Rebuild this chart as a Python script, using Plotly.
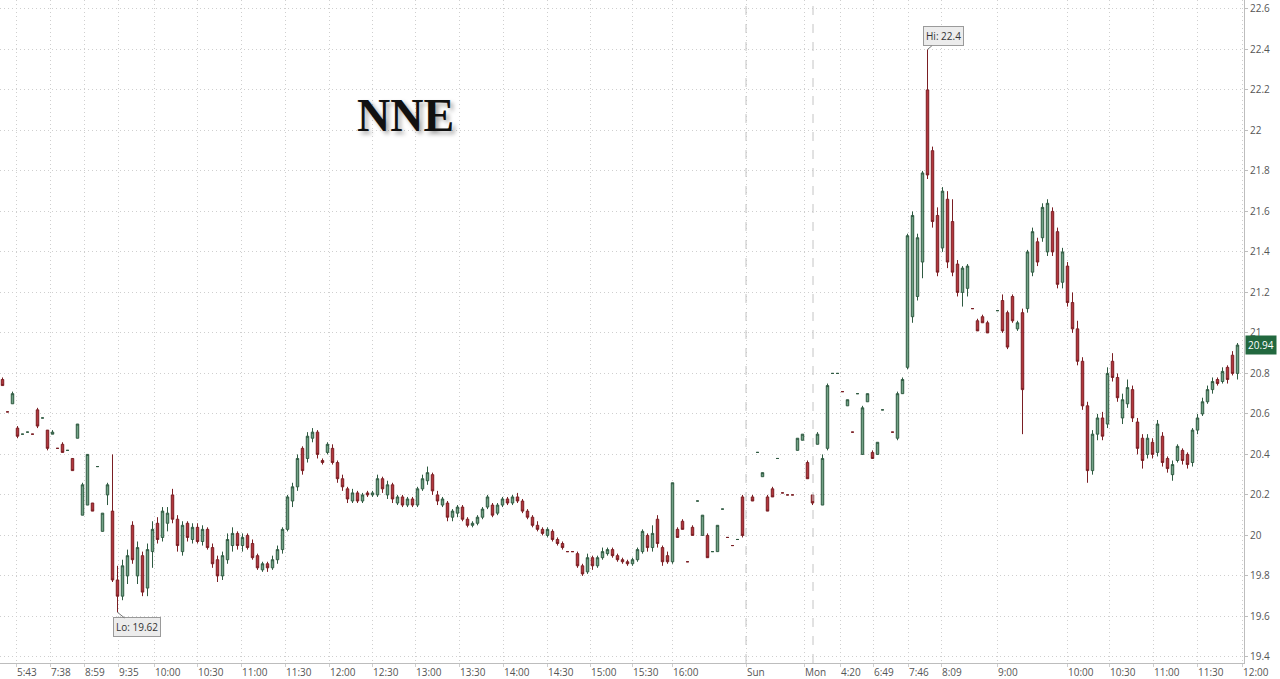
"""NNE 日内 K 线图（周五盘前 → 周一午盘），Plotly 复刻。"""

import plotly.graph_objects as go

# ============================================================
# 数据：每根 K 线一个槽位，None = 该槽位无成交
# ============================================================

open_ = [
    20.77, 20.61, 20.65, 20.53, 20.50, 20.51, 20.50, 20.62, 20.58, 20.52,
    20.50, 20.43, 20.45, 20.42, 20.38, 20.48, 20.10, 20.15, 20.16, 20.34,
    20.02, 20.20, 20.12, 19.78, 19.70, 19.80, 20.05, 19.80, 19.90, 19.74,
    19.92, 20.06, 19.99, 20.06, 20.20, 20.08, 19.92, 20.06, 19.98, 20.04,
    19.97, 20.03, 19.94, 19.88, 19.80, 19.88, 19.95, 20.01, 19.95, 20.00,
    19.96, 19.90, 19.83, 19.86, 19.84, 19.88, 19.93, 20.03, 20.17, 20.24,
    20.43, 20.38, 20.48, 20.51, 20.37, 20.41, 20.43, 20.36, 20.28, 20.23,
    20.17, 20.21, 20.17, 20.21, 20.20, 20.20, 20.28, 20.20, 20.25, 20.16,
    20.19, 20.15, 20.18, 20.15, 20.23, 20.27, 20.30, 20.20, 20.15, 20.16,
    20.09, 20.11, 20.14, 20.08, 20.05, 20.06, 20.09, 20.14, 20.15, 20.11,
    20.15, 20.18, 20.16, 20.19, 20.17, 20.12, 20.09, 20.05, 20.03, 20.00,
    20.02, 19.98, 19.96, 19.92, 19.92, 19.91, 19.85, 19.82, 19.89, 19.85,
    19.89, 19.91, 19.93, 19.90, 19.88, 19.87, 19.86, 19.88, 19.92, 20.00,
    19.94, 20.08, 19.94, 19.90, 19.87, 20.03, 20.07, 19.87, 20.04, 20.17,
    20.00, 20.00, 19.92, 19.92, 20.13, 19.99, 19.95, 19.98, 20.19, None,
    20.19, 20.41, 20.29, 20.19, 20.23, 20.38, 20.21, 20.20, 20.20, 20.42,
    20.47, 20.36, 20.20, 20.45, 20.15, 20.43, 20.80, 20.80, 20.71, 20.64,
    20.51, 20.70, 20.40, 20.66, 20.41, 20.40, 20.62, None, 20.51, 20.48,
    20.70, 20.83, 21.08, 21.18, 21.35, 22.20, 21.90, 21.58, 21.42, 21.66,
    21.55, 21.34, 21.20, 21.22, 21.12, 21.06, 21.08, 21.05, None, 21.11,
    21.16, 21.10, 21.18, 21.02, 21.10, 21.12, 21.30, 21.45, 21.47, 21.40,
    21.60, 21.50, 21.25, 21.33, 21.15, 21.02, 20.86, 20.64, 20.32, 20.50,
    20.58, 20.55, 20.86, 20.78, 20.58, 20.65, 20.72, 20.56, 20.48, 20.40,
    20.46, 20.41, 20.49, 20.38, 20.30, 20.37, 20.42, 20.40, 20.36, 20.52,
    20.60, 20.66, 20.72, 20.77, 20.76, 20.83, 20.89, 20.80,
]

high = [
    20.78, 20.61, 20.71, 20.54, 20.50, 20.51, 20.50, 20.63, 20.58, 20.52,
    20.52, 20.43, 20.46, 20.42, 20.38, 20.55, 20.26, 20.40, 20.16, 20.34,
    20.11, 20.26, 20.40, 19.85, 19.88, 19.93, 20.07, 19.97, 19.92, 19.96,
    20.07, 20.09, 20.14, 20.14, 20.23, 20.10, 20.07, 20.07, 20.06, 20.06,
    20.05, 20.04, 19.96, 19.90, 19.92, 20.01, 20.04, 20.02, 20.01, 20.01,
    19.98, 19.91, 19.87, 19.87, 19.90, 19.95, 20.04, 20.20, 20.26, 20.40,
    20.44, 20.51, 20.53, 20.52, 20.38, 20.46, 20.45, 20.37, 20.30, 20.24,
    20.23, 20.22, 20.21, 20.22, 20.22, 20.30, 20.29, 20.27, 20.26, 20.20,
    20.20, 20.19, 20.19, 20.24, 20.30, 20.34, 20.31, 20.22, 20.19, 20.17,
    20.13, 20.15, 20.15, 20.09, 20.07, 20.10, 20.14, 20.20, 20.16, 20.16,
    20.19, 20.19, 20.20, 20.21, 20.18, 20.13, 20.10, 20.07, 20.04, 20.04,
    20.03, 19.99, 19.97, 19.92, 19.92, 19.92, 19.86, 19.91, 19.90, 19.90,
    19.94, 19.94, 19.94, 19.91, 19.89, 19.88, 19.89, 19.94, 20.03, 20.01,
    20.05, 20.10, 19.95, 19.92, 20.26, 20.04, 20.08, 19.87, 20.05, 20.17,
    20.10, 20.01, 19.92, 20.05, 20.13, 19.99, 19.95, 19.98, 20.20, None,
    20.20, 20.41, 20.31, 20.20, 20.24, 20.38, 20.21, 20.20, 20.20, 20.48,
    20.50, 20.37, 20.20, 20.51, 20.40, 20.75, 20.80, 20.80, 20.71, 20.67,
    20.51, 20.70, 20.64, 20.70, 20.42, 20.46, 20.62, None, 20.51, 20.71,
    20.78, 21.49, 21.60, 21.49, 21.80, 22.40, 21.92, 21.62, 21.72, 21.70,
    21.66, 21.36, 21.33, 21.34, 21.12, 21.07, 21.09, 21.06, None, 21.11,
    21.19, 21.11, 21.19, 21.06, 21.12, 21.41, 21.52, 21.47, 21.64, 21.66,
    21.62, 21.52, 21.42, 21.35, 21.20, 21.06, 20.88, 20.66, 20.52, 20.60,
    20.61, 20.83, 20.90, 20.80, 20.70, 20.77, 20.74, 20.58, 20.50, 20.50,
    20.48, 20.57, 20.51, 20.39, 20.37, 20.45, 20.43, 20.41, 20.53, 20.60,
    20.68, 20.74, 20.78, 20.78, 20.83, 20.84, 20.91, 20.95,
]

low = [
    20.74, 20.61, 20.65, 20.48, 20.50, 20.51, 20.50, 20.53, 20.58, 20.42,
    20.50, 20.43, 20.41, 20.42, 20.32, 20.48, 20.10, 20.15, 20.12, 20.34,
    20.02, 20.15, 19.77, 19.62, 19.68, 19.76, 19.86, 19.76, 19.70, 19.70,
    19.84, 19.96, 19.97, 20.02, 20.06, 19.92, 19.90, 19.97, 19.96, 19.96,
    19.95, 19.93, 19.84, 19.77, 19.78, 19.86, 19.92, 19.93, 19.92, 19.93,
    19.88, 19.83, 19.82, 19.82, 19.83, 19.86, 19.91, 20.02, 20.14, 20.22,
    20.30, 20.36, 20.46, 20.38, 20.35, 20.40, 20.35, 20.26, 20.22, 20.16,
    20.16, 20.16, 20.16, 20.19, 20.19, 20.19, 20.21, 20.18, 20.16, 20.15,
    20.14, 20.14, 20.14, 20.14, 20.22, 20.25, 20.20, 20.15, 20.14, 20.07,
    20.07, 20.09, 20.07, 20.04, 20.04, 20.05, 20.08, 20.13, 20.09, 20.10,
    20.14, 20.15, 20.15, 20.16, 20.11, 20.08, 20.04, 20.02, 20.00, 19.99,
    19.97, 19.95, 19.93, 19.92, 19.92, 19.84, 19.80, 19.81, 19.83, 19.84,
    19.88, 19.90, 19.89, 19.87, 19.86, 19.85, 19.85, 19.87, 19.91, 19.92,
    19.92, 19.94, 19.85, 19.86, 19.86, 19.99, 20.03, 19.87, 20.00, 20.17,
    20.00, 19.89, 19.92, 19.92, 20.13, 19.99, 19.95, 19.98, 19.99, None,
    20.17, 20.41, 20.29, 20.12, 20.19, 20.38, 20.21, 20.20, 20.20, 20.42,
    20.47, 20.28, 20.15, 20.45, 20.15, 20.42, 20.80, 20.80, 20.71, 20.64,
    20.51, 20.70, 20.40, 20.66, 20.38, 20.40, 20.62, None, 20.51, 20.47,
    20.70, 20.82, 21.05, 21.16, 21.27, 21.76, 21.52, 21.28, 21.40, 21.32,
    21.28, 21.18, 21.13, 21.18, 21.12, 21.01, 21.05, 21.00, None, 21.11,
    21.00, 20.92, 21.05, 21.01, 20.50, 21.10, 21.28, 21.33, 21.45, 21.38,
    21.38, 21.22, 21.22, 21.13, 21.00, 20.84, 20.62, 20.26, 20.30, 20.47,
    20.47, 20.53, 20.76, 20.66, 20.55, 20.63, 20.56, 20.40, 20.33, 20.38,
    20.38, 20.39, 20.34, 20.31, 20.27, 20.36, 20.35, 20.33, 20.34, 20.50,
    20.59, 20.65, 20.70, 20.74, 20.75, 20.75, 20.79, 20.77,
]

close = [
    20.74, 20.61, 20.70, 20.49, 20.50, 20.51, 20.50, 20.54, 20.58, 20.43,
    20.51, 20.43, 20.41, 20.42, 20.32, 20.55, 20.25, 20.40, 20.12, 20.34,
    20.11, 20.25, 19.78, 19.70, 19.85, 19.90, 19.88, 19.94, 19.72, 19.93,
    20.03, 19.98, 20.12, 20.11, 20.08, 19.95, 20.05, 19.99, 20.04, 19.97,
    20.03, 19.94, 19.86, 19.80, 19.90, 19.98, 20.01, 19.95, 19.99, 19.94,
    19.89, 19.84, 19.86, 19.84, 19.88, 19.93, 20.03, 20.19, 20.24, 20.38,
    20.32, 20.49, 20.51, 20.40, 20.36, 20.45, 20.36, 20.28, 20.24, 20.18,
    20.21, 20.17, 20.20, 20.20, 20.21, 20.28, 20.23, 20.25, 20.18, 20.19,
    20.15, 20.18, 20.15, 20.23, 20.28, 20.31, 20.22, 20.17, 20.18, 20.09,
    20.12, 20.14, 20.08, 20.05, 20.06, 20.09, 20.13, 20.19, 20.10, 20.15,
    20.18, 20.16, 20.19, 20.17, 20.12, 20.09, 20.05, 20.03, 20.01, 20.03,
    19.98, 19.96, 19.94, 19.92, 19.92, 19.85, 19.81, 19.89, 19.85, 19.89,
    19.92, 19.93, 19.90, 19.88, 19.87, 19.86, 19.88, 19.93, 20.02, 19.94,
    20.01, 19.96, 19.87, 19.87, 20.26, 19.99, 20.03, 19.87, 20.00, 20.17,
    20.10, 19.89, 19.92, 20.05, 20.13, 19.99, 19.95, 19.98, 20.00, None,
    20.17, 20.41, 20.31, 20.12, 20.19, 20.38, 20.21, 20.20, 20.20, 20.48,
    20.50, 20.28, 20.16, 20.50, 20.38, 20.74, 20.80, 20.80, 20.71, 20.67,
    20.51, 20.70, 20.63, 20.70, 20.38, 20.46, 20.62, None, 20.51, 20.70,
    20.77, 21.48, 21.58, 21.47, 21.79, 21.78, 21.55, 21.30, 21.70, 21.35,
    21.30, 21.20, 21.32, 21.33, 21.12, 21.01, 21.05, 21.00, None, 21.11,
    21.01, 20.93, 21.06, 21.05, 20.72, 21.40, 21.50, 21.35, 21.62, 21.64,
    21.40, 21.24, 21.40, 21.15, 21.02, 20.86, 20.64, 20.32, 20.50, 20.58,
    20.49, 20.80, 20.78, 20.68, 20.67, 20.73, 20.58, 20.43, 20.37, 20.48,
    20.40, 20.55, 20.36, 20.33, 20.35, 20.44, 20.37, 20.35, 20.52, 20.58,
    20.66, 20.72, 20.76, 20.75, 20.81, 20.77, 20.80, 20.94,
]

# x 轴刻度（槽位坐标）与标签
tick_pos = [2.7, 9.5, 16.3, 23.1, 30.3, 38.9, 47.7, 56.5, 65.3, 73.9,
            82.5, 91.3, 100.1, 108.9, 117.5, 125.9, 133.9, 148.7, 160.3,
            167.5, 174.1, 181.1, 187.7, 198.9, 212.9, 221.3, 230.1, 238.9,
            247.9]
tick_text = ["5:43", "7:38", "8:59", "9:35", "10:00", "10:30", "11:00",
             "11:30", "12:00", "12:30", "13:00", "13:30", "14:00", "14:30",
             "15:00", "15:30", "16:00", "Sun", "Mon", "4:20", "6:49", "7:46",
             "8:09", "9:00", "10:00", "10:30", "11:00", "11:30", "12:00"]

session_breaks = [148.7, 162.1]   # Sun / Mon 虚线

hi_idx, hi_val = 185, 22.4
lo_idx, lo_val = 23, 19.62
last_val = 20.94

# ============================================================
# 图
# ============================================================

idx = [i for i, c in enumerate(close) if c is not None]

fig = go.Figure(go.Candlestick(
    x=idx,
    open=[open_[i] for i in idx],
    high=[high[i] for i in idx],
    low=[low[i] for i in idx],
    close=[close[i] for i in idx],
    increasing=dict(fillcolor="#72a286", line=dict(color="#2f5a41", width=1)),
    decreasing=dict(fillcolor="#b3363d", line=dict(color="#7a1e23", width=1)),
    whiskerwidth=0,
    showlegend=False,
    hoverinfo="skip",
))

# 细点状网格
grid = dict(showgrid=True, gridcolor="#cfcfcf", griddash="1px,3px",
            gridwidth=1, zeroline=False)
axis_font = dict(family="Open Sans, Noto Sans, sans-serif", size=10,
                 color="#555")

fig.update_xaxes(
    range=[-0.5, 248.3], tickmode="array", tickvals=tick_pos,
    ticktext=tick_text, ticklabelposition="outside right",
    ticks="outside", ticklen=3, tickcolor="#cfcfcf",
    showline=True, linecolor="#bdbdbd", tickfont=axis_font,
    rangeslider_visible=False, **grid,
)
fig.update_yaxes(
    range=[19.370, 22.644], side="right", dtick=0.2, tick0=19.4,
    ticks="outside", ticklen=3, tickcolor="#bdbdbd",
    showline=True, linecolor="#bdbdbd", tickfont=axis_font, **grid,
)

for xb in session_breaks:
    fig.add_shape(type="line", x0=xb, x1=xb, y0=0, y1=1, yref="paper",
                  line=dict(color="#c4c4c4", width=1, dash="dash"))

label_style = dict(
    showarrow=True, arrowhead=0, arrowwidth=1, arrowcolor="#777",
    bgcolor="#ececec", bordercolor="#9a9a9a", borderwidth=1, borderpad=2,
    font=dict(family="Open Sans, Noto Sans, sans-serif", size=10,
              color="#333"),
)
fig.add_annotation(x=hi_idx, y=hi_val, text=f"Hi: {hi_val}", ax=16, ay=-13,
                   **label_style)
fig.add_annotation(x=lo_idx, y=lo_val, text=f"Lo: {lo_val}", ax=19, ay=15,
                   **label_style)

# 最新价标签
fig.add_annotation(
    x=1, xref="paper", y=last_val, text=f"{last_val:.2f}", showarrow=False,
    xanchor="left", xshift=1, bgcolor="#22683f", borderpad=2,
    font=dict(family="Open Sans, Noto Sans, sans-serif", size=10,
              color="white"),
)

# 标题 NNE
fig.add_annotation(
    x=0.3256, y=0.8265, xref="paper", yref="paper", text="<b>NNE</b>",
    xanchor="center", yanchor="middle", showarrow=False,
    font=dict(family="Liberation Serif, DejaVu Serif, serif", size=46,
              color="#111", shadow="3px 3px 4px rgba(0,0,0,0.35)"),
)

fig.update_layout(
    width=1280, height=679,
    margin=dict(l=0, r=36, t=0, b=16),
    paper_bgcolor="white", plot_bgcolor="white",
)

# 去掉页面默认 8px 边距，让图贴满窗口；不显示工具栏
fig.write_html(
    "out.html",
    config={"displayModeBar": False},
    post_script="document.body.style.margin='0';"
                "document.body.style.overflow='hidden';",
)
